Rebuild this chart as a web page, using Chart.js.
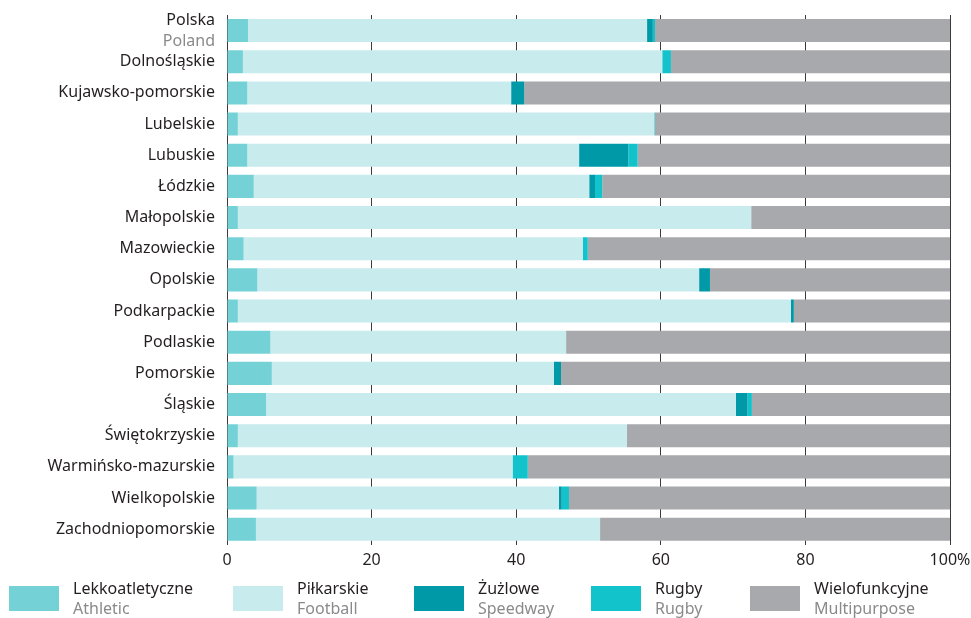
<!DOCTYPE html>
<html>
<head>
<meta charset="utf-8">
<script src="https://cdn.jsdelivr.net/npm/chart.js@4/dist/chart.umd.min.js"></script>
<style>
  html, body { margin:0; padding:0; background:#fff; }
  body { width:971px; height:618px; position:relative; overflow:hidden; font-family:"Noto Sans", sans-serif; }
  #wrap { position:absolute; left:0; top:0; width:971px; height:578px; }
  .leg { position:absolute; top:578px; }
  .leg .box { position:absolute; left:0; top:8px; width:50px; height:25px; }
  .leg .t1 { position:absolute; top:0; white-space:nowrap; font-size:16px; color:#231f20; line-height:20px; }
  .leg .t2 { position:absolute; top:20px; white-space:nowrap; font-size:16px; color:#8a8a8c; line-height:20px; }
</style>
</head>
<body>
<div id="wrap"><canvas id="c" width="971" height="578"></canvas></div>
<div id="legend"></div>
<script>
const categories = [
  ['Polska','Poland'], 'Dolnośląskie', 'Kujawsko-pomorskie', 'Lubelskie', 'Lubuskie', 'Łódzkie',
  'Małopolskie', 'Mazowieckie', 'Opolskie', 'Podkarpackie', 'Podlaskie', 'Pomorskie',
  'Śląskie', 'Świętokrzyskie', 'Warmińsko-mazurskie', 'Wielkopolskie', 'Zachodniopomorskie'
];
const athletic   = [2.9, 2.2, 2.8, 1.5, 2.8, 3.7, 1.5, 2.3, 4.2, 1.5, 6.0, 6.2, 5.4, 1.5, 0.9, 4.1, 4.0];
const football   = [55.2, 58.0, 36.5, 57.6, 45.9, 46.4, 71.0, 46.9, 61.1, 76.5, 40.9, 39.0, 65.0, 53.8, 38.6, 41.8, 47.6];
const speedway   = [0.8, 0, 1.8, 0, 6.8, 0.8, 0, 0, 1.5, 0.4, 0, 1.0, 1.6, 0, 0, 0.4, 0];
const rugby      = [0.3, 1.2, 0, 0.1, 1.3, 1.0, 0, 0.7, 0, 0, 0, 0, 0.6, 0, 2.1, 1.0, 0];
const multi      = [40.8, 38.6, 58.9, 40.8, 43.2, 48.1, 27.5, 50.1, 33.2, 21.6, 53.1, 53.8, 27.4, 44.7, 58.4, 52.7, 48.4];
const seriesNamesPl = ['Lekkoatletyczne', 'Piłkarskie', 'Żużlowe', 'Rugby', 'Wielofunkcyjne'];
const seriesNamesEn = ['Athletic', 'Football', 'Speedway', 'Rugby', 'Multipurpose'];
const xTicks = [0, 20, 40, 60, 80, 100];

const colors = ['#74d2d7', '#c8ebee', '#0099a8', '#13c3cb', '#a8a9ad'];
const values = [athletic, football, speedway, rugby, multi];
const FONT = '"Noto Sans", sans-serif';

const datasets = values.map((v, i) => ({
  label: seriesNamesPl[i],
  data: v,
  backgroundColor: colors[i],
  borderWidth: 0,
  barPercentage: 0.74,
  categoryPercentage: 1.0
}));

// Draws the two-line, two-colour label of the first category (Polska / Poland)
const firstLabelPlugin = {
  id: 'firstLabel',
  afterDraw(chart) {
    const y = chart.scales.y;
    const ctx = chart.ctx;
    const py = y.getPixelForTick(0);
    ctx.save();
    ctx.font = '16px ' + FONT;
    ctx.textAlign = 'right';
    ctx.textBaseline = 'middle';
    ctx.fillStyle = '#231f20';
    ctx.fillText(categories[0][0], y.right - 12, py - 10);
    ctx.fillStyle = '#8a8a8c';
    ctx.fillText(categories[0][1], y.right - 12, py + 11);
    ctx.restore();
  }
};

new Chart(document.getElementById('c'), {
  type: 'bar',
  data: { labels: categories, datasets },
  plugins: [firstLabelPlugin],
  options: {
    indexAxis: 'y',
    responsive: false,
    animation: false,
    layout: { padding: { top: 15, right: 21, left: 0, bottom: 2 } },
    plugins: { legend: { display: false }, tooltip: { enabled: false } },
    scales: {
      x: {
        stacked: true,
        min: 0, max: 100,
        afterBuildTicks(scale) { scale.ticks = xTicks.map(v => ({ value: v })); },
        afterFit(scale) { scale.paddingLeft = 0; scale.paddingRight = 0; },
        grid: { color: '#3a3a3a', lineWidth: 1, drawTicks: false },
        border: { display: false },
        ticks: {
          padding: 6,
          color: '#231f20',
          font: { family: FONT, size: 16 },
          callback: (v) => v === 100 ? '100%' : String(v)
        }
      },
      y: {
        stacked: true,
        grid: { display: false, drawTicks: false },
        border: { display: false },
        afterFit(scale) { scale.width = 227; scale.paddingTop = 0; scale.paddingBottom = 0; },
        ticks: {
          padding: 12,
          autoSkip: false,
          color: '#231f20',
          font: { family: FONT, size: 16 },
          callback: function (v, i) { return i === 0 ? '' : this.getLabelForValue(v); }
        }
      }
    }
  }
});

// legend (HTML, real text)
const legX = [9, 233, 414, 591, 750];
const legend = document.getElementById('legend');
seriesNamesPl.forEach((n, i) => {
  const d = document.createElement('div');
  d.className = 'leg';
  d.style.left = legX[i] + 'px';
  d.innerHTML = '<div class="box" style="background:' + colors[i] + '"></div>' +
    '<div class="t1" style="left:64px">' + n + '</div>' +
    '<div class="t2" style="left:64px">' + seriesNamesEn[i] + '</div>';
  legend.appendChild(d);
});
</script>
</body>
</html>
